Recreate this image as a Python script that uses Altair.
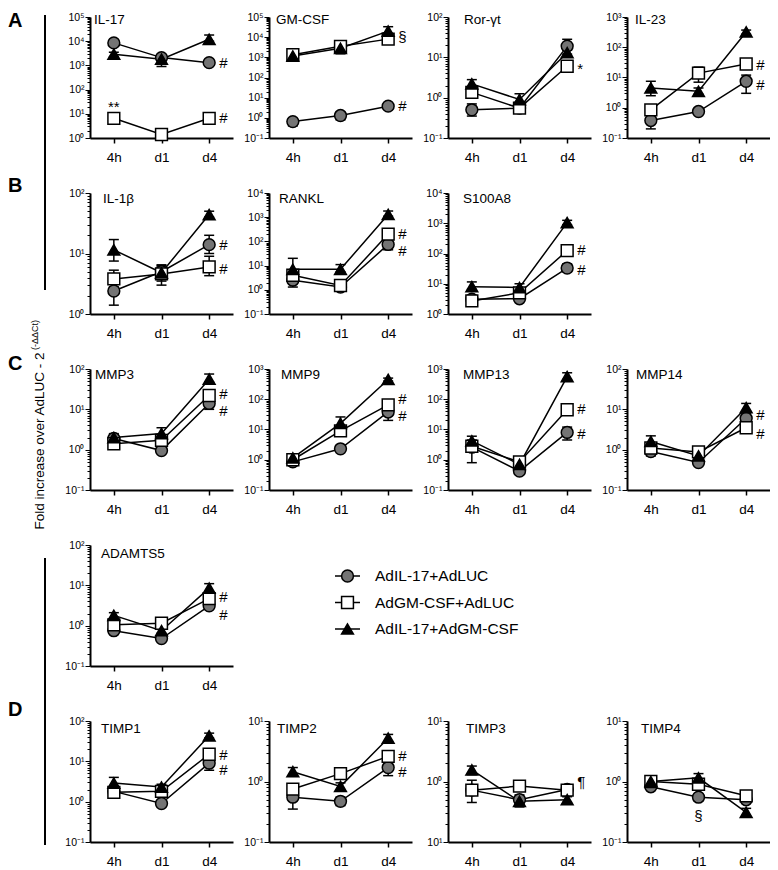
import altair as alt
import pandas as pd

TIMES = ["4h", "d1", "d4"]
GROUPS = ["AdIL-17+AdLUC", "AdGM-CSF+AdLUC", "AdIL-17+AdGM-CSF"]

# rows: AdIL-17+AdLUC, AdGM-CSF+AdLUC, AdIL-17+AdGM-CSF ; columns: 4h, d1, d4
IL17_MEAN = [[8500, 2100, 1300], [6.5, 1.4, 6.5], [2900, 1800, 12000]]
IL17_LO = [[7000, 1700, 1000], [5, 1.1, 5], [2300, 900, 10000]]
IL17_HI = [[10000, 2600, 1600], [8.5, 1.7, 8.5], [3500, 2300, 18000]]

GMCSF_MEAN = [[0.65, 1.3, 3.8], [1350, 3500, 8000], [1150, 2800, 20000]]
GMCSF_LO = [[0.4, 0.8, 3.0], [1100, 2500, 6000], [1000, 1500, 15000]]
GMCSF_HI = [[0.9, 1.9, 4.8], [1700, 4800, 10000], [1400, 3500, 33000]]

RORGT_MEAN = [[0.5, 0.55, 19], [1.35, 0.55, 6], [2.2, 0.9, 13]]
RORGT_LO = [[0.35, 0.45, 12], [1.0, 0.45, 5], [1.8, 0.7, 11]]
RORGT_HI = [[0.7, 0.65, 28], [1.8, 0.7, 7], [2.8, 1.25, 15]]

IL23_MEAN = [[0.38, 0.75, 7.5], [0.85, 14, 28], [4.5, 3.5, 320]]
IL23_LO = [[0.2, 0.62, 3], [0.65, 7, 22], [2.5, 2.8, 270]]
IL23_HI = [[0.6, 0.9, 12], [1.1, 22, 35], [7.5, 4.5, 370]]

IL1B_MEAN = [[2.4, 5.0, 14], [3.8, 4.6, 6], [11.5, 4.8, 44]]
IL1B_LO = [[1.4, 4.0, 10], [2.8, 3.0, 4.3], [7.5, 3.5, 40]]
IL1B_HI = [[3.5, 6.3, 20], [5.3, 6.5, 9], [17, 6, 50]]

RANKL_MEAN = [[2.5, 1.3, 75], [4.0, 1.5, 200], [7, 7, 1300]]
RANKL_LO = [[1.3, 1.1, 45], [3, 1.2, 140], [4, 5.5, 1100]]
RANKL_HI = [[3.5, 1.5, 110], [5.5, 1.9, 260], [20, 11, 1800]]

S100A8_MEAN = [[3.1, 3.2, 33], [2.7, 5.0, 125], [8, 7.5, 1050]]
S100A8_LO = [[2.5, 2.7, 25], [2.3, 4.0, 105], [6.5, 6.5, 900]]
S100A8_HI = [[3.8, 3.8, 45], [3.3, 6.0, 145], [11.5, 10, 1250]]

MMP3_MEAN = [[1.9, 0.95, 14], [1.4, 1.7, 22], [2.0, 2.5, 56]]
MMP3_LO = [[1.5, 0.85, 10], [1.2, 1.3, 17], [1.7, 2.0, 48]]
MMP3_HI = [[2.3, 1.1, 20], [1.7, 2.2, 27], [2.5, 3.5, 75]]

MMP9_MEAN = [[0.85, 2.3, 38], [1.0, 9.0, 65], [1.15, 16, 450]]
MMP9_LO = [[0.75, 2.0, 20], [0.85, 7, 50], [1.0, 13, 400]]
MMP9_HI = [[1.0, 2.7, 55], [1.2, 11, 80], [1.35, 26, 500]]

MMP13_MEAN = [[2.6, 0.42, 8], [2.8, 0.85, 45], [4.2, 0.7, 560]]
MMP13_LO = [[0.8, 0.35, 4.5], [2.2, 0.7, 38], [3.5, 0.6, 450]]
MMP13_HI = [[4.5, 0.5, 12], [3.5, 1.0, 55], [6, 0.8, 750]]

MMP14_MEAN = [[0.9, 0.48, 6], [1.1, 0.88, 3.5], [1.6, 0.7, 11]]
MMP14_LO = [[0.7, 0.42, 4.5], [0.95, 0.75, 3.0], [1.3, 0.6, 9]]
MMP14_HI = [[1.1, 0.55, 8], [1.3, 1.0, 4.0], [2.2, 0.8, 14]]

ADAMTS5_MEAN = [[0.75, 0.48, 3.1], [1.05, 1.15, 4.7], [1.8, 0.75, 8.5]]
ADAMTS5_LO = [[0.65, 0.42, 2.6], [0.9, 0.95, 4.0], [1.5, 0.65, 7]]
ADAMTS5_HI = [[0.9, 0.55, 3.6], [1.3, 1.35, 5.5], [2.1, 0.85, 11]]

TIMP1_MEAN = [[1.8, 0.9, 9], [1.7, 1.8, 15], [2.9, 2.3, 43]]
TIMP1_LO = [[1.5, 0.75, 6], [1.4, 1.5, 12], [2.2, 2.0, 38]]
TIMP1_HI = [[2.2, 1.05, 12], [2.1, 2.3, 19], [4.0, 2.7, 50]]

TIMP2_MEAN = [[0.55, 0.47, 1.7], [0.75, 1.35, 2.6], [1.45, 0.83, 5.2]]
TIMP2_LO = [[0.35, 0.4, 1.25], [0.6, 1.15, 2.1], [1.25, 0.72, 4.6]]
TIMP2_HI = [[0.75, 0.55, 2.3], [0.9, 1.6, 3.2], [1.7, 0.95, 6.0]]

TIMP3_MEAN = [[0.72, 0.5, 0.74], [0.72, 0.84, 0.72], [1.55, 0.47, 0.5]]
TIMP3_LO = [[0.45, 0.42, 0.6], [0.6, 0.75, 0.62], [1.3, 0.38, 0.45]]
TIMP3_HI = [[1.05, 0.6, 0.88], [0.85, 0.95, 0.82], [1.8, 0.52, 0.56]]

TIMP4_MEAN = [[0.82, 0.55, 0.5], [1.0, 0.9, 0.58], [1.0, 1.15, 0.31]]
TIMP4_LO = [[0.75, 0.48, 0.44], [0.9, 0.8, 0.5], [0.9, 1.0, 0.26]]
TIMP4_HI = [[0.9, 0.62, 0.56], [1.1, 1.05, 0.66], [1.1, 1.35, 0.36]]

# y-axis decades (min exponent, max exponent)
PANELS = {
    "IL-17": (IL17_MEAN, IL17_LO, IL17_HI, (0, 5)),
    "GM-CSF": (GMCSF_MEAN, GMCSF_LO, GMCSF_HI, (-1, 5)),
    "Ror-γt": (RORGT_MEAN, RORGT_LO, RORGT_HI, (-1, 2)),
    "IL-23": (IL23_MEAN, IL23_LO, IL23_HI, (-1, 3)),
    "IL-1β": (IL1B_MEAN, IL1B_LO, IL1B_HI, (0, 2)),
    "RANKL": (RANKL_MEAN, RANKL_LO, RANKL_HI, (-1, 4)),
    "S100A8": (S100A8_MEAN, S100A8_LO, S100A8_HI, (0, 4)),
    "MMP3": (MMP3_MEAN, MMP3_LO, MMP3_HI, (-1, 2)),
    "MMP9": (MMP9_MEAN, MMP9_LO, MMP9_HI, (-1, 3)),
    "MMP13": (MMP13_MEAN, MMP13_LO, MMP13_HI, (-1, 3)),
    "MMP14": (MMP14_MEAN, MMP14_LO, MMP14_HI, (-1, 2)),
    "ADAMTS5": (ADAMTS5_MEAN, ADAMTS5_LO, ADAMTS5_HI, (-1, 2)),
    "TIMP1": (TIMP1_MEAN, TIMP1_LO, TIMP1_HI, (-1, 2)),
    "TIMP2": (TIMP2_MEAN, TIMP2_LO, TIMP2_HI, (-1, 1)),
    "TIMP3": (TIMP3_MEAN, TIMP3_LO, TIMP3_HI, (-1, 1)),
    "TIMP4": (TIMP4_MEAN, TIMP4_LO, TIMP4_HI, (-1, 1)),
}

ANNOTATIONS = [
    ("IL-17", "d4", 1300, "#"), ("IL-17", "d4", 6.5, "#"), ("IL-17", "4h", 19, "**"),
    ("GM-CSF", "d4", 10000, "§"), ("GM-CSF", "d4", 3.8, "#"),
    ("Ror-γt", "d4", 5, "*"),
    ("IL-23", "d4", 26, "#"), ("IL-23", "d4", 5.5, "#"),
    ("IL-1β", "d4", 14, "#"), ("IL-1β", "d4", 5.6, "#"),
    ("RANKL", "d4", 195, "#"), ("RANKL", "d4", 40, "#"),
    ("S100A8", "d4", 134, "#"), ("S100A8", "d4", 29, "#"),
    ("MMP3", "d4", 24, "#"), ("MMP3", "d4", 9, "#"),
    ("MMP9", "d4", 100, "#"), ("MMP9", "d4", 28, "#"),
    ("MMP13", "d4", 49, "#"), ("MMP13", "d4", 7, "#"),
    ("MMP14", "d4", 7.4, "#"), ("MMP14", "d4", 2.5, "#"),
    ("ADAMTS5", "d4", 5, "#"), ("ADAMTS5", "d4", 1.8, "#"),
    ("TIMP1", "d4", 14.5, "#"), ("TIMP1", "d4", 6, "#"),
    ("TIMP2", "d4", 2.6, "#"), ("TIMP2", "d4", 1.45, "#"),
    ("TIMP3", "d4", 1.0, "¶"),
    ("TIMP4", "d1", 0.27, "§"),
]

GRID = [
    ["IL-17", "GM-CSF", "Ror-γt", "IL-23"],
    ["IL-1β", "RANKL", "S100A8", None],
    ["MMP3", "MMP9", "MMP13", "MMP14"],
    ["ADAMTS5", "LEGEND", None, None],
    ["TIMP1", "TIMP2", "TIMP3", "TIMP4"],
]

# ---- styling / placement (pixels) ----
W, H = 143, 121
GRAY = "#747474"
FONT = "Liberation Sans"
LETTERS = {"IL-17": ("A", 4), "IL-1β": ("B", -7), "MMP3": ("C", -5), "TIMP1": ("D", -11)}
TITLE_POS = {"IL-17": (4, 3), "GM-CSF": (7, 3), "Ror-γt": (16, 3), "IL-23": (8, 3),
             "IL-1β": (13, 6), "RANKL": (10, 6), "S100A8": (15, 6),
             "MMP3": (5, 6), "MMP9": (12, 6), "MMP13": (15, 6), "MMP14": (9, 6),
             "ADAMTS5": (11, 9), "TIMP1": (11, 8), "TIMP2": (8, 8), "TIMP3": (18, 8),
             "TIMP4": (14, 8)}
NO_FRAME = alt.ViewBackground(stroke="transparent", strokeWidth=0)

shape_scale = alt.Scale(domain=GROUPS, range=["circle", "square", "triangle-up"])
fill_scale = alt.Scale(domain=GROUPS, range=[GRAY, "white", "black"])

E = "round(log(datum.value)/LN10)"
IS_MAJOR = f"abs(log(datum.value)/LN10 - {E}) < 0.001"
SUP = "['⁻¹','⁰','¹','²','³','⁴','⁵']"


def one():
    return pd.DataFrame({"k": [0]})


def panel(name):
    mean, lo, hi, (e0, e1) = PANELS[name]
    rows = []
    for gi, g in enumerate(GROUPS):
        for ti, t in enumerate(TIMES):
            rows.append({"group": g, "time": t, "mean": mean[gi][ti],
                         "lo": lo[gi][ti], "hi": hi[gi][ti]})
    df = pd.DataFrame(rows)

    ticks = [k * 10.0 ** e for e in range(e0, e1) for k in range(1, 10)] + [10.0 ** e1]
    label_expr = f"{IS_MAJOR} ? '10' + {SUP}[{E} + 1] : ''"
    if name == "TIMP3":
        label_expr = f"datum.value < 0.15 ? '10¹' : ({label_expr})"

    xaxis = alt.Axis(title=None, labelAngle=0, labelFontSize=13.5, labelPadding=7,
                     tickSize=5, tickWidth=1.5, tickColor="black", domainWidth=2,
                     domainColor="black", labelColor="black", grid=False)
    yaxis = alt.Axis(title=None, values=ticks, labelExpr=label_expr, labelFontSize=10.5,
                     labelPadding=1, labelOverlap=False, labelColor="black",
                     tickSize={"condition": {"test": IS_MAJOR, "value": 5}, "value": 3},
                     tickWidth=1, tickColor="black", domainWidth=2, domainColor="black",
                     grid=False)
    xs = alt.Scale(type="point", domain=TIMES, padding=0.5)
    ys = alt.Scale(type="log", domain=[10.0 ** e0, 10.0 ** e1], nice=False)
    X = alt.X("time:N", scale=xs, axis=xaxis)

    base = alt.Chart(df)
    lines = base.mark_line(color="black", strokeWidth=1.5).encode(
        x=X, y=alt.Y("mean:Q", scale=ys, axis=yaxis), detail="group:N")
    bars = base.mark_rule(color="black", strokeWidth=1.5).encode(
        x=X, y=alt.Y("lo:Q", scale=ys, axis=yaxis), y2="hi:Q")
    cap_lo = base.mark_tick(color="black", size=10, thickness=1.5, opacity=1).encode(
        x=X, y=alt.Y("lo:Q", scale=ys, axis=yaxis))
    cap_hi = base.mark_tick(color="black", size=10, thickness=1.5, opacity=1).encode(
        x=X, y=alt.Y("hi:Q", scale=ys, axis=yaxis))
    pts = base.mark_point(filled=True, size=140, stroke="black", strokeWidth=1.5,
                          opacity=1, fillOpacity=1).encode(
        x=X, y=alt.Y("mean:Q", scale=ys, axis=yaxis),
        shape=alt.Shape("group:N", scale=shape_scale, legend=None),
        fill=alt.Fill("group:N", scale=fill_scale, legend=None))

    tx, ty = TITLE_POS[name]
    title = alt.Chart(pd.DataFrame({"name": [name]})).mark_text(
        align="left", baseline="middle", fontSize=13.5, color="black").encode(
        x=alt.value(tx), y=alt.value(ty), text="name:N")

    layers = [lines, bars, cap_lo, cap_hi, pts, title]

    ann = pd.DataFrame([a for a in ANNOTATIONS if a[0] == name],
                       columns=["panel", "time", "y", "sym"])
    if len(ann):
        ann_d4 = ann[ann["time"] == "d4"]
        ann_mid = ann[ann["time"] != "d4"]
        if len(ann_d4):
            layers.append(alt.Chart(ann_d4).mark_text(
                align="left", baseline="middle", dx=10, fontSize=15, color="black").encode(
                x=X, y=alt.Y("y:Q", scale=ys, axis=yaxis), text="sym:N"))
        if len(ann_mid):
            layers.append(alt.Chart(ann_mid).mark_text(
                align="center", baseline="middle", fontSize=15, color="black").encode(
                x=X, y=alt.Y("y:Q", scale=ys, axis=yaxis), text="sym:N"))

    if name in LETTERS:
        letter, ly = LETTERS[name]
        layers.append(alt.Chart(one()).mark_text(
            align="left", baseline="middle", fontSize=20, fontWeight="bold",
            color="black").encode(x=alt.value(-82), y=alt.value(ly), text=alt.value(letter)))
    if name == "IL-17":
        layers.append(alt.Chart(one()).mark_rule(color="black", strokeWidth=2).encode(
            x=alt.value(-45), y=alt.value(-2), y2=alt.value(273)))
    if name == "ADAMTS5":
        layers.append(alt.Chart(one()).mark_rule(color="black", strokeWidth=2).encode(
            x=alt.value(-45), y=alt.value(13), y2=alt.value(300)))
    if name == "MMP3":
        layers.append(alt.Chart(one()).mark_text(
            angle=270, align="center", baseline="middle", fontSize=13.5,
            color="black").encode(x=alt.value(-50), y=alt.value(72),
                                  text=alt.value("Fold increase over AdLUC - 2")))
        layers.append(alt.Chart(one()).mark_text(
            angle=270, align="center", baseline="middle", fontSize=9,
            color="black").encode(x=alt.value(-55), y=alt.value(-34),
                                  text=alt.value("(-ΔΔCt)")))

    return alt.layer(*layers).properties(width=W, height=H, view=NO_FRAME)


def legend_panel():
    df = pd.DataFrame({"group": GROUPS})
    Y = alt.Y("group:N", scale=alt.Scale(type="point", domain=GROUPS, range=[31, 84],
                                         padding=0), axis=None)
    base = alt.Chart(df)
    rule = base.mark_rule(color="black", strokeWidth=1.5).encode(
        y=Y, x=alt.value(66), x2=alt.value(91))
    pts = base.mark_point(filled=True, size=140, stroke="black", strokeWidth=1.5,
                          opacity=1, fillOpacity=1).encode(
        y=Y, x=alt.value(78.5),
        shape=alt.Shape("group:N", scale=shape_scale, legend=None),
        fill=alt.Fill("group:N", scale=fill_scale, legend=None))
    txt = base.mark_text(align="left", baseline="middle", fontSize=15.5,
                         color="black").encode(y=Y, x=alt.value(106), text="group:N")
    return alt.layer(rule, pts, txt).properties(width=W, height=H, view=NO_FRAME)


def blank():
    return alt.Chart(one()).mark_point(opacity=0).encode(
        x=alt.value(0), y=alt.value(0)).properties(width=W, height=H, view=NO_FRAME)


cells = []
for row in GRID:
    for name in row:
        if name is None:
            cells.append(blank())
        elif name == "LEGEND":
            cells.append(legend_panel())
        else:
            cells.append(panel(name))

chart = alt.concat(*cells, columns=4, spacing={"row": 55, "column": 36},
                   bounds="flush",
                   padding={"top": 3, "left": 0, "right": 0, "bottom": 0}).resolve_scale(
    x="independent", y="independent").configure_view(
    stroke="transparent", strokeWidth=0).configure(font=FONT)

chart.save("out.html", embed_options={"renderer": "svg", "actions": False})
